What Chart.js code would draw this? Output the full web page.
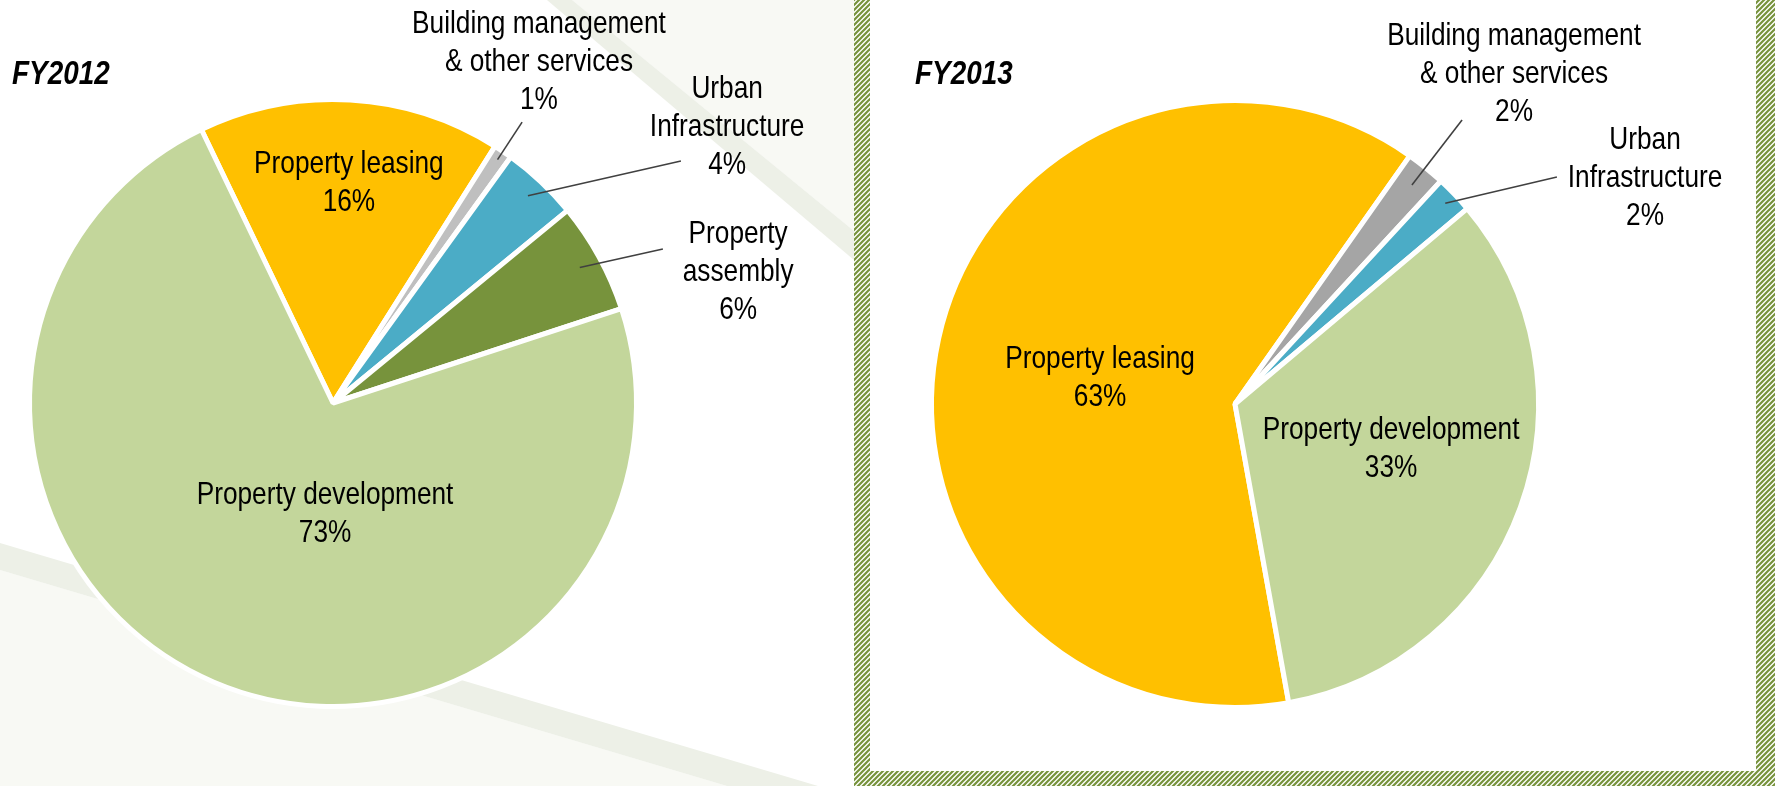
<!DOCTYPE html>
<html>
<head>
<meta charset="utf-8">
<script src="https://cdn.jsdelivr.net/npm/chart.js@4"></script>
<style>
  html, body { margin: 0; padding: 0; background: #fff; }
  #wrap { position: relative; width: 1775px; height: 786px; overflow: hidden; }
  canvas { position: absolute; top: 0; }
  #fy2012 { left: 0; }
  #fy2013 { left: 854px; }
</style>
</head>
<body>
<div id="wrap">
  <canvas id="fy2012" width="854" height="786"></canvas>
  <canvas id="fy2013" width="921" height="786"></canvas>
</div>
<script>
// data
const segments2012 = ['Property leasing', 'Building management & other services', 'Urban Infrastructure', 'Property assembly', 'Property development']
const share2012 = [16.1, 1.0, 4.1, 5.9, 72.9]
const lines2012 = [['Property leasing'], ['Building management', '& other services'], ['Urban', 'Infrastructure'], ['Property', 'assembly'], ['Property development']]

const segments2013 = ['Property leasing', 'Building management & other services', 'Urban Infrastructure', 'Property development']
const share2013 = [62.6, 2.1, 2.0, 33.3]
const lines2013 = [['Property leasing'], ['Building management', '& other services'], ['Urban', 'Infrastructure'], ['Property development']]

// label placement, in units of the pie radius from its centre
const place2012 = [
    { at: [0.052, -0.719] },
    { at: [0.673, -1.114], end: [0.618, -0.918], inner: 0.96 },
    { at: [1.288, -0.902], end: [1.137, -0.791], inner: 0.93 },
    { at: [1.324, -0.428], end: [1.078, -0.503], inner: 0.92 },
    { at: [-0.026, 0.363] },
]
const place2013 = [
    { at: [-0.441, -0.085] },
    { at: [0.912, -1.078], end: [0.742, -0.928], inner: 0.92 },
    { at: [1.340, -0.739], end: [1.052, -0.742], inner: 0.95 },
    { at: [0.510, 0.147] },
]

const NARROW = 0.82
const LINE_H = 38

function narrowText(ctx, text, x, y, font, align) {
    ctx.save()
    ctx.translate(x, y)
    ctx.scale(NARROW, 1)
    ctx.font = font
    ctx.fillStyle = '#000'
    ctx.textAlign = align
    ctx.textBaseline = 'middle'
    ctx.fillText(text, 0, 0)
    ctx.restore()
}

const labelPlugin = {
    id: 'pieLabels',
    afterDatasetsDraw(chart, args, opts) {
        const ctx = chart.ctx
        const meta = chart.getDatasetMeta(0)
        const values = chart.data.datasets[0].data
        narrowText(ctx, opts.title, opts.titleX, 75, 'italic bold 34px "Liberation Sans", Arial, sans-serif', 'left')
        meta.data.forEach((arc, i) => {
            const p = arc.getProps(['x', 'y', 'startAngle', 'endAngle', 'outerRadius'], true)
            const r = p.outerRadius + 2.5
            const spot = opts.place[i]
            if (spot.end) {
                const mid = (p.startAngle + p.endAngle) / 2
                ctx.save()
                ctx.strokeStyle = '#404040'
                ctx.lineWidth = 1.6
                ctx.beginPath()
                ctx.moveTo(p.x + Math.cos(mid) * r * spot.inner, p.y + Math.sin(mid) * r * spot.inner)
                ctx.lineTo(p.x + spot.end[0] * r, p.y + spot.end[1] * r)
                ctx.stroke()
                ctx.restore()
            }
            const txt = opts.lines[i].concat([Math.round(values[i]) + '%'])
            const cx = p.x + spot.at[0] * r
            const cy = p.y + spot.at[1] * r - (txt.length - 1) * LINE_H / 2
            txt.forEach((t, k) => {
                narrowText(ctx, t, cx, cy + k * LINE_H, '32px "Liberation Sans", Arial, sans-serif', 'center')
            })
        })
    },
}

function poly(ctx, pts, color) {
    ctx.fillStyle = color
    ctx.beginPath()
    ctx.moveTo(pts[0][0], pts[0][1])
    pts.slice(1).forEach(q => ctx.lineTo(q[0], q[1]))
    ctx.closePath()
    ctx.fill()
}

const leftBackground = {
    id: 'leftBackground',
    beforeDraw(chart) {
        const ctx = chart.ctx
        ctx.save()
        ctx.fillStyle = '#fff'
        ctx.fillRect(0, 0, chart.width, chart.height)
        poly(ctx, [[572, 0], [854, 0], [854, 231]], '#f8f9f4')
        poly(ctx, [[547, 0], [572, 0], [854, 231], [854, 260]], '#edf0e7')
        poly(ctx, [[0, 570], [727, 786], [0, 786]], '#f8f9f4')
        poly(ctx, [[0, 543], [0, 570], [727, 786], [818, 786]], '#edf0e7')
        ctx.restore()
    },
}

function hatchPattern(ctx) {
    const t = document.createElement('canvas')
    t.width = 5
    t.height = 5
    const c = t.getContext('2d')
    c.fillStyle = '#fff'
    c.fillRect(0, 0, 5, 5)
    c.strokeStyle = '#77933c'
    c.lineWidth = 2.2
    c.beginPath()
    c.moveTo(-1, 6); c.lineTo(6, -1)
    c.moveTo(-1, 1); c.lineTo(1, -1)
    c.moveTo(4, 6); c.lineTo(6, 4)
    c.stroke()
    return ctx.createPattern(t, 'repeat')
}

const hatchedFrame = {
    id: 'hatchedFrame',
    beforeDraw(chart) {
        const ctx = chart.ctx
        const w = chart.width, h = chart.height
        ctx.save()
        ctx.fillStyle = '#fff'
        ctx.fillRect(0, 0, w, h)
        ctx.fillStyle = hatchPattern(ctx)
        ctx.fillRect(0, 0, 16, h)
        ctx.fillRect(w - 19, 0, 19, h)
        ctx.fillRect(0, h - 15, w, 15)
        ctx.restore()
    },
}

const config2012 = {
    type: 'pie',
    data: {
        labels: segments2012,
        datasets: [{
            data: share2012,
            backgroundColor: ['#ffc000', '#bfbfbf', '#4bacc6', '#77933c', '#c3d69b'],
            borderColor: '#fff',
            borderWidth: 5,
        }],
    },
    options: {
        responsive: false,
        animation: false,
        events: [],
        rotation: -25.7,
        layout: { padding: { left: 27, top: 97, right: 215, bottom: 77 } },
        plugins: {
            legend: { display: false },
            tooltip: { enabled: false },
            pieLabels: { title: 'FY2012', titleX: 12, lines: lines2012, place: place2012 },
        },
    },
    plugins: [leftBackground, labelPlugin],
}

const config2013 = {
    type: 'pie',
    data: {
        labels: segments2013,
        datasets: [{
            data: share2013,
            backgroundColor: ['#ffc000', '#a5a5a5', '#4bacc6', '#c3d69b'],
            borderColor: '#fff',
            borderWidth: 5,
        }],
    },
    options: {
        responsive: false,
        animation: false,
        events: [],
        rotation: 169.8,
        layout: { padding: { left: 75, top: 98, right: 234, bottom: 76 } },
        plugins: {
            legend: { display: false },
            tooltip: { enabled: false },
            pieLabels: { title: 'FY2013', titleX: 61, lines: lines2013, place: place2013 },
        },
    },
    plugins: [hatchedFrame, labelPlugin],
}

const chart2012 = new Chart(document.getElementById('fy2012'), config2012)
const chart2013 = new Chart(document.getElementById('fy2013'), config2013)
</script>
</body>
</html>
